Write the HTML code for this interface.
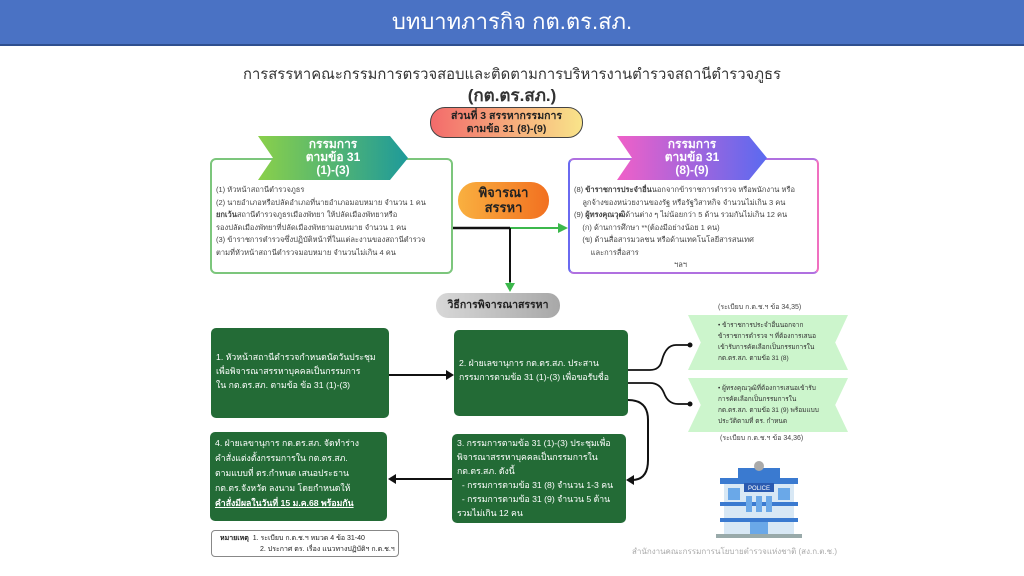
<!DOCTYPE html>
<html><head><meta charset="utf-8"><style>
*{margin:0;padding:0;box-sizing:border-box}
body{width:1024px;height:576px;background:#fff;position:relative;overflow:hidden;font-family:"Liberation Sans","Noto Sans CJK SC",sans-serif;color:#333}
.a{position:absolute}
.hdr{left:0;top:0;width:1024px;height:46px;background:#4a72c4;border-bottom:2px solid #2f4f8f;color:#fff;font-size:22px;text-align:center;line-height:44px}
.g{background:#236b36;color:#fff;border-radius:5px;font-size:8.7px;line-height:14px;padding:5px;white-space:nowrap}
.t{font-size:7.5px;line-height:12.5px;color:#444;white-space:nowrap}
.chev{color:#fff;font-weight:bold;text-align:center;font-size:12px;line-height:13px;padding-top:2px;clip-path:polygon(0 0,88% 0,100% 50%,88% 100%,0 100%,10% 50%)}
.rib{background:#ccf5cc;font-size:6.5px;line-height:11px;color:#333;padding:5px 10px 0 30px;white-space:nowrap;clip-path:polygon(0 0,100% 0,92% 50%,100% 100%,0 100%,8% 50%)}
</style></head><body>
<div class="a hdr">บทบาทภารกิจ กต.ตร.สภ.</div>
<div class="a" style="left:0;top:62px;width:1024px;text-align:center;font-size:14.8px;color:#333">การสรรหาคณะกรรมการตรวจสอบและติดตามการบริหารงานตำรวจสถานีตำรวจภูธร</div>
<div class="a" style="left:0;top:82px;width:1024px;text-align:center;font-size:17px;font-weight:bold;color:#333">(กต.ตร.สภ.)</div>
<div class="a" style="left:430px;top:107px;width:153px;height:31px;border:1.5px solid #444;border-radius:15px;background:linear-gradient(90deg,#f36b6b,#f9e48a);text-align:center;font-size:10.5px;font-weight:bold;line-height:13px;padding-top:2px;color:#222">ส่วนที่ 3 สรรหากรรมการ<br>ตามข้อ 31 (8)-(9)</div>

<div class="a" style="left:210px;top:158px;width:243px;height:116px;border:2px solid #7cc67c;border-radius:6px"></div>
<div class="a chev" style="left:258px;top:136px;width:150px;height:44px;background:linear-gradient(90deg,#8ad04a,#1e9a9a)">กรรมการ<br>ตามข้อ 31<br>(1)-(3)</div>
<div class="a t" style="left:216px;top:184px;width:236px">(1) หัวหน้าสถานีตำรวจภูธร<br>(2) นายอำเภอหรือปลัดอำเภอที่นายอำเภอมอบหมาย จำนวน 1 คน<br><b>ยกเว้น</b>สถานีตำรวจภูธรเมืองพัทยา ให้ปลัดเมืองพัทยาหรือ<br>รองปลัดเมืองพัทยาที่ปลัดเมืองพัทยามอบหมาย จำนวน 1 คน<br>(3) ข้าราชการตำรวจซึ่งปฏิบัติหน้าที่ในแต่ละงานของสถานีตำรวจ<br>ตามที่หัวหน้าสถานีตำรวจมอบหมาย จำนวนไม่เกิน 4 คน</div>

<div class="a" style="left:568px;top:158px;width:251px;height:116px;border:2px solid #b070e0;border-left-color:#6a6af0;border-right-color:#f070c0;border-radius:6px"></div>
<div class="a chev" style="left:617px;top:136px;width:150px;height:44px;background:linear-gradient(90deg,#f060c8,#5a6af0)">กรรมการ<br>ตามข้อ 31<br>(8)-(9)</div>
<div class="a t" style="left:574px;top:184px;width:244px">(8) <b>ข้าราชการประจำอื่น</b>นอกจากข้าราชการตำรวจ หรือพนักงาน หรือ<br>&nbsp;&nbsp;&nbsp;&nbsp;ลูกจ้างของหน่วยงานของรัฐ หรือรัฐวิสาหกิจ จำนวนไม่เกิน 3 คน<br>(9) <b>ผู้ทรงคุณวุฒิ</b>ด้านต่าง ๆ ไม่น้อยกว่า 5 ด้าน รวมกันไม่เกิน 12 คน<br>&nbsp;&nbsp;&nbsp;&nbsp;(ก) ด้านการศึกษา **(ต้องมีอย่างน้อย 1 คน)<br>&nbsp;&nbsp;&nbsp;&nbsp;(ข) ด้านสื่อสารมวลชน หรือด้านเทคโนโลยีสารสนเทศ<br>&nbsp;&nbsp;&nbsp;&nbsp;&nbsp;&nbsp;&nbsp;&nbsp;และการสื่อสาร<br><span style="padding-left:100px">ฯลฯ</span></div>

<div class="a" style="left:458px;top:182px;width:91px;height:37px;border-radius:18px;background:linear-gradient(90deg,#f9b040,#f27020);color:#222;font-weight:bold;font-size:13px;line-height:15px;text-align:center;padding-top:3px">พิจารณา<br>สรรหา</div>

<svg class="a" style="left:0;top:0" width="1024" height="576">
<path d="M453 228 H510" stroke="#111" stroke-width="2.5"/>
<path d="M510 228 H560" stroke="#3cb84c" stroke-width="2"/><path d="M568 228 L558 223 L558 233Z" fill="#3cb84c"/>
<path d="M510 228 V282" stroke="#111" stroke-width="2"/><path d="M510 282 V286" stroke="#3cb84c" stroke-width="2"/><path d="M510 292 L505 283 L515 283Z" fill="#3cb84c"/>
<path d="M389 375 H448" stroke="#111" stroke-width="2"/><path d="M454 375 L446 370 L446 380Z" fill="#111"/>
<path d="M452 479 H394" stroke="#111" stroke-width="2"/><path d="M388 479 L396 474 L396 484Z" fill="#111"/>
<path d="M628 400 Q648 400 648 420 V460 Q648 480 632 480" stroke="#111" stroke-width="2" fill="none"/><path d="M626 480 L634 475 L634 485Z" fill="#111"/>
<path d="M628 370 H650 Q660 370 662 360 Q666 345 676 345 H690" stroke="#111" stroke-width="1.8" fill="none"/><circle cx="690" cy="345" r="2.5" fill="#111"/>
<path d="M628 383 H650 Q660 383 664 393 Q668 404 678 404 H690" stroke="#111" stroke-width="1.8" fill="none"/><circle cx="690" cy="404" r="2.5" fill="#111"/>
</svg>

<div class="a" style="left:436px;top:293px;width:124px;height:25px;border-radius:12px;background:linear-gradient(90deg,#d8d8d8,#a8a8a8);font-weight:bold;font-size:10.5px;line-height:25px;text-align:center;color:#222">วิธีการพิจารณาสรรหา</div>

<div class="a g" style="left:211px;top:328px;width:178px;height:90px;padding-top:22px">1. หัวหน้าสถานีตำรวจกำหนดนัดวันประชุม<br>เพื่อพิจารณาสรรหาบุคคลเป็นกรรมการ<br>ใน กต.ตร.สภ. ตามข้อ ข้อ 31 (1)-(3)</div>
<div class="a g" style="left:454px;top:330px;width:174px;height:86px;padding-top:26px">2. ฝ่ายเลขานุการ กต.ตร.สภ. ประสาน<br>กรรมการตามข้อ 31 (1)-(3) เพื่อขอรับชื่อ</div>
<div class="a g" style="left:452px;top:434px;width:174px;height:89px;padding-top:2px">3. กรรมการตามข้อ 31 (1)-(3) ประชุมเพื่อ<br>พิจารณาสรรหาบุคคลเป็นกรรมการใน<br>กต.ตร.สภ. ดังนี้<br>&nbsp;&nbsp;- กรรมการตามข้อ 31 (8) จำนวน 1-3 คน<br>&nbsp;&nbsp;- กรรมการตามข้อ 31 (9) จำนวน 5 ด้าน<br>รวมไม่เกิน 12 คน</div>
<div class="a g" style="left:210px;top:432px;width:177px;height:89px;padding-top:4px;line-height:15px">4. ฝ่ายเลขานุการ กต.ตร.สภ. จัดทำร่าง<br>คำสั่งแต่งตั้งกรรมการใน กต.ตร.สภ.<br>ตามแบบที่ ตร.กำหนด เสนอประธาน<br>กต.ตร.จังหวัด ลงนาม โดยกำหนดให้<br><b><u>คำสั่งมีผลในวันที่ 15 ม.ค.68 พร้อมกัน</u></b></div>

<div class="a" style="left:718px;top:302px;font-size:7px;color:#444">(ระเบียบ ก.ต.ช.ฯ ข้อ 34,35)</div>
<div class="a rib" style="left:688px;top:315px;width:160px;height:55px">• ข้าราชการประจำอื่นนอกจาก<br>ข้าราชการตำรวจ ฯ ที่ต้องการเสนอ<br>เข้ารับการคัดเลือกเป็นกรรมการใน<br>กต.ตร.สภ. ตามข้อ 31 (8)</div>
<div class="a rib" style="left:688px;top:378px;width:160px;height:54px">• ผู้ทรงคุณวุฒิที่ต้องการเสนอเข้ารับ<br>การคัดเลือกเป็นกรรมการใน<br>กต.ตร.สภ. ตามข้อ 31 (9) พร้อมแบบ<br>ประวัติตามที่ ตร. กำหนด</div>
<div class="a" style="left:720px;top:433px;font-size:7px;color:#444">(ระเบียบ ก.ต.ช.ฯ ข้อ 34,36)</div>

<svg class="a" style="left:716px;top:460px" width="86" height="80">
<rect x="8" y="20" width="70" height="55" fill="#d8e8f5"/><rect x="4" y="18" width="78" height="6" fill="#3a7ad0"/>
<rect x="22" y="8" width="42" height="12" fill="#3a7ad0"/><circle cx="43" cy="6" r="5" fill="#aaa"/>
<rect x="28" y="23" width="30" height="9" fill="#2a5ab0"/><text x="43" y="30" font-size="6" fill="#fff" text-anchor="middle" font-family="Liberation Sans">POLICE</text>
<rect x="4" y="42" width="78" height="4" fill="#3a7ad0"/><rect x="4" y="58" width="78" height="4" fill="#3a7ad0"/>
<rect x="12" y="28" width="12" height="12" fill="#6aa8e8"/><rect x="62" y="28" width="12" height="12" fill="#6aa8e8"/>
<rect x="30" y="36" width="6" height="16" fill="#6aa8e8"/><rect x="40" y="36" width="6" height="16" fill="#6aa8e8"/><rect x="50" y="36" width="6" height="16" fill="#6aa8e8"/>
<rect x="34" y="62" width="18" height="13" fill="#6aa8e8"/><rect x="0" y="74" width="86" height="4" fill="#9aa"/>
</svg>

<div class="a" style="left:211px;top:530px;width:188px;height:27px;border:1.5px solid #888;border-radius:4px;font-size:7px;line-height:11px;padding:2px 0 0 8px;color:#222;white-space:nowrap"><b>หมายเหตุ</b>&nbsp; 1. ระเบียบ ก.ต.ช.ฯ หมวด 4 ข้อ 31-40<br><span style="padding-left:40px">2. ประกาศ ตร. เรื่อง แนวทางปฏิบัติฯ ก.ต.ช.ฯ</span></div>
<div class="a" style="left:632px;top:545px;font-size:8px;color:#aaa;white-space:nowrap">สำนักงานคณะกรรมการนโยบายตำรวจแห่งชาติ (สง.ก.ต.ช.)</div>
</body></html>
